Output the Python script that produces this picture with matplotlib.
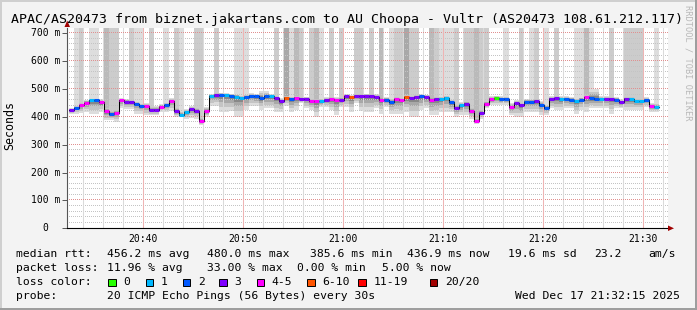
import numpy as np
import matplotlib
matplotlib.use("Agg")
import matplotlib.pyplot as plt
from matplotlib.patches import Rectangle, Polygon
from matplotlib import transforms

W, H = 697, 310

title = "APAC/AS20473 from biznet.jakartans.com to AU Choopa - Vultr (AS20473 108.61.212.117)"

# 30 s steps, first one at 20:32:34 (x axis is minutes after 20:00)
t_start = 32 + 34 / 60
step_min = 0.5

# median rtt per step (ms)
median = [423, 432, 441, 450, 459, 459, 453, 420, 409, 415,
          459, 455, 453, 447, 439, 438, 426, 426, 437, 441,
          458, 421, 408, 418, 428, 422, 385, 421, 475, 479,
          480, 478, 475, 473, 469, 471, 476, 474, 468, 474,
          474, 469, 457, 469, 465, 469, 465, 464, 457, 457,
          456, 460, 464, 461, 462, 474, 470, 475, 475, 475,
          475, 472, 462, 462, 455, 464, 460, 472, 469, 471,
          474, 471, 462, 464, 464, 469, 452, 433, 441, 447,
          421, 386, 414, 447, 465, 467, 465, 465, 436, 450,
          441, 455, 455, 457, 444, 432, 465, 467, 465, 465,
          462, 456, 462, 470, 467, 465, 464, 465, 465, 462,
          453, 465, 465, 456, 456, 460, 438, 437]

# lost pings per step (of 20)
loss = [3, 2, 4, 4, 1, 2, 4, 4, 2, 4,
        4, 3, 3, 2, 2, 4, 3, 3, 4, 2,
        4, 3, 1, 1, 3, 3, 4, 4, 1, 3,
        2, 1, 2, 1, 1, 2, 2, 2, 2, 2,
        1, 3, 3, 7, 2, 4, 3, 3, 4, 4,
        1, 3, 4, 4, 3, 3, 7, 3, 3, 3,
        3, 3, 4, 2, 2, 4, 4, 7, 3, 3,
        2, 3, 4, 3, 1, 1, 2, 3, 1, 3,
        4, 4, 3, 4, 4, 0, 2, 2, 4, 3,
        3, 2, 2, 3, 2, 2, 3, 3, 1, 2,
        2, 1, 2, 4, 2, 2, 1, 3, 3, 2,
        3, 3, 1, 1, 1, 2, 4, 1]

# smoke: lowest and highest ping of each step (ms)
smoke_lo = [412, 412, 415, 418, 412, 412, 418, 388, 388, 383,
            430, 428, 428, 412, 412, 406, 406, 406, 418, 418,
            420, 400, 398, 394, 396, 394, 372, 400, 440, 440,
            417, 417, 420, 400, 400, 424, 440, 440, 424, 430,
            430, 418, 418, 440, 418, 424, 448, 430, 424, 400,
            436, 436, 424, 406, 436, 436, 418, 448, 420, 418,
            418, 430, 412, 436, 412, 412, 412, 418, 400, 400,
            424, 430, 406, 406, 418, 418, 418, 400, 406, 406,
            394, 375, 394, 430, 442, 442, 442, 442, 406, 400,
            400, 418, 418, 418, 406, 406, 430, 424, 424, 430,
            430, 412, 424, 418, 430, 430, 430, 430, 412, 430,
            430, 424, 424, 424, 424, 436, 418, 418]
smoke_hi = [432, 442, 452, 462, 468, 468, 464, 436, 424, 428,
            466, 464, 462, 456, 450, 448, 438, 438, 446, 452,
            466, 434, 420, 428, 438, 434, 400, 434, 482, 486,
            487, 485, 483, 482, 478, 480, 484, 482, 493, 493,
            482, 478, 468, 478, 474, 478, 474, 473, 468, 468,
            466, 470, 474, 471, 472, 482, 479, 483, 483, 483,
            483, 481, 472, 472, 466, 474, 470, 481, 478, 480,
            482, 480, 472, 474, 474, 478, 464, 446, 452, 458,
            434, 400, 428, 458, 474, 476, 474, 474, 448, 460,
            452, 465, 465, 467, 456, 444, 474, 476, 474, 474,
            472, 466, 472, 480, 499, 499, 474, 474, 474, 472,
            464, 474, 474, 466, 466, 470, 450, 448]
# pings beyond the top of the graph: 0 none .. 4 many
tall = [0, 1, 2, 0, 1, 1, 0, 3, 2, 2,
        0, 0, 2, 1, 1, 0, 2, 0, 0, 1,
        0, 2, 1, 0, 0, 2, 2, 0, 0, 2,
        0, 0, 0, 1, 1, 1, 0, 0, 0, 0,
        0, 2, 0, 4, 1, 3, 2, 0, 2, 3,
        1, 0, 2, 0, 2, 0, 0, 2, 2, 0,
        2, 0, 3, 0, 1, 2, 2, 4, 2, 2,
        0, 0, 3, 2, 1, 1, 1, 2, 0, 2,
        2, 3, 2, 2, 0, 0, 0, 1, 0, 0,
        2, 0, 1, 2, 0, 1, 0, 2, 0, 0,
        0, 1, 1, 3, 1, 0, 0, 0, 2, 0,
        0, 2, 2, 2, 2, 0, 0, 1]

x_ticks = [40, 50, 60, 70, 80, 90]
x_labels = ["20:40", "20:50", "21:00", "21:10", "21:20", "21:30"]
y_ticks = [0, 100, 200, 300, 400, 500, 600, 700]
y_labels = ["0", "100 m", "200 m", "300 m", "400 m", "500 m", "600 m", "700 m"]

loss_names = ["0", "1", "2", "3", "4-5", "6-10", "11-19", "20/20"]
loss_colors = ["#26ff00", "#00b8ff", "#0059ff", "#7e00ff", "#ff00ff",
               "#ff5500", "#ff0000", "#a10000"]


def loss_color(n):
    if n <= 3:
        return loss_colors[n]
    if n <= 5:
        return loss_colors[4]
    if n <= 10:
        return loss_colors[5]
    if n <= 19:
        return loss_colors[6]
    return loss_colors[7]


MONO = "DejaVu Sans Mono"
plt.rcParams["font.family"] = MONO

fig = plt.figure(figsize=(W / 100, H / 100), dpi=100, facecolor="#f3f3f3")


def fx(p):
    return p / W


def fy(p):
    return 1 - p / H


x_left, x_right = 67, 668
y_top, y_bot = 27.7, 228.3
ax = fig.add_axes([fx(x_left), fy(y_bot), (x_right - x_left) / W, (y_bot - y_top) / H])
ax.set_facecolor("white")
xlim = (40 - (143.3 - x_left) / 10, 40 + (x_right - 143.3) / 10)
ylim = (0, 720)
ax.set_xlim(*xlim)
ax.set_ylim(*ylim)

x = t_start + step_min * np.arange(len(median))
med = np.array(median, float)
lo = np.array(smoke_lo, float)
hi = np.array(smoke_hi, float)
tl = np.array(tall)

# smoke
ax.bar(x, hi - lo, bottom=lo, width=step_min, align="edge", color="#dddddd",
       linewidth=0, antialiased=False, zorder=1)
tall_colors = {1: "#dddddd", 2: "#cccccc", 3: "#bababa", 4: "#a8a8a8"}
for lev, c in tall_colors.items():
    m = tl == lev
    ax.bar(x[m], 720 - med[m], bottom=med[m], width=step_min, align="edge",
           color=c, linewidth=0, antialiased=False, zorder=1.1)
for f, c in [(0.7, "#c4c4c4"), (0.45, "#a8a8a8"), (0.25, "#888888"), (0.1, "#5a5a5a")]:
    b = med - f * (med - lo)
    t = med + f * (hi - med)
    ax.bar(x, t - b, bottom=b, width=step_min, align="edge", color=c,
           linewidth=0, antialiased=False, zorder=1.2)

# grid: dotted horizontals, light vertical lines
minor_c = "#c4c4c4"
major_c = "#e09090"
dx = (xlim[1] - xlim[0]) / (x_right - x_left) * 2
gx = np.arange(xlim[0], xlim[1], dx)


def hdots(v, c, z):
    ax.plot(gx, np.full(len(gx), v), ",", color=c, zorder=z)


for v in np.arange(20, 720, 20):
    if v % 100:
        hdots(v, minor_c, 2)
for v in y_ticks[1:]:
    hdots(v, major_c, 2.1)
for v in np.arange(34, 93, 2):
    if v % 10:
        ax.axvline(v, color="#dadada", lw=0.75, snap=True, zorder=2)
for v in x_ticks:
    ax.axvline(v, color="#eeb4b4", lw=0.75, snap=True, zorder=2.1)

# median line coloured by loss
xs = np.append(x, x[-1] + step_min)
ys = np.append(med, med[-1])
ax.step(xs, ys, where="post", color="black", lw=0.75, zorder=3)
cols = [loss_color(n) for n in loss]
ax.hlines(med, x, x + step_min, colors=cols, lw=2.2, capstyle="butt", zorder=4)

# axes
for s in ["top", "right"]:
    ax.spines[s].set_visible(False)
ax.spines["left"].set_color("#555555")
ax.spines["left"].set_linewidth(0.8)
ax.spines["bottom"].set_color("black")
ax.spines["bottom"].set_linewidth(0.8)
ax.spines["left"].set_zorder(5)
ax.spines["bottom"].set_zorder(5)
ax.set_yticks(y_ticks)
ax.set_yticklabels([])
ax.tick_params(axis="y", length=3.6, width=0.7, color="#555555", direction="out")
ax.set_xticks(x_ticks)
ax.set_xticklabels(x_labels, fontsize=7, family=MONO)
ax.tick_params(axis="x", length=0, pad=4)

ylab_tr = transforms.blended_transform_factory(fig.transFigure, ax.transData)
for v, lab in zip(y_ticks, y_labels):
    xr = fx(60) if v else fx(48)
    ax.text(xr, v, lab, transform=ylab_tr, ha="right", va="center", fontsize=7, family=MONO)

# arrows
fig.add_artist(Polygon([(fx(64.5), fy(27)), (fx(70), fy(27)), (fx(67.2), fy(20.5))],
                       closed=True, transform=fig.transFigure, color="#a00000", lw=0))
fig.add_artist(Polygon([(fx(668), fy(225.5)), (fx(668), fy(231)), (fx(674), fy(228.3))],
                       closed=True, transform=fig.transFigure, color="#a00000", lw=0))

# texts
fig.text(fx(347), fy(19), title, ha="center", va="center", fontsize=9.5, family=MONO)
fig.text(fx(10), fy(126), "Seconds", rotation=90, ha="center", va="center", fontsize=8.4, family=MONO)
fig.text(fx(688), fy(5), "RRDTOOL / TOBI OETIKER", rotation=270, ha="center", va="top",
         fontsize=6.2, family=MONO, color="#b8b8b8")

LF = 8.2
line1 = [(16, "median rtt:"), (107.3, "456.2 ms avg"), (207.3, "480.0 ms max"),
         (310, "385.6 ms min"), (407.3, "436.9 ms now"), (507.7, "19.6 ms sd"),
         (594, "23.2"), (648, "am/s")]
line2 = [(16, "packet loss:"), (107.3, "11.96 % avg"), (207.3, "33.00 % max"),
         (297, "0.00 % min"), (382, "5.00 % now")]
for px_, s in line1:
    fig.text(fx(px_), fy(254.3), s, ha="left", va="center", fontsize=LF, family=MONO)
for px_, s in line2:
    fig.text(fx(px_), fy(268.3), s, ha="left", va="center", fontsize=LF, family=MONO)

fig.text(fx(16), fy(282.3), "loss color:", ha="left", va="center", fontsize=LF, family=MONO)
box_x = [108.3, 145.7, 182.7, 219.3, 256.7, 307.3, 358.3, 430]
for bx, name, c in zip(box_x, loss_names, loss_colors):
    fig.add_artist(Rectangle((fx(bx), fy(286)), 7.3 / W, 7.3 / H, transform=fig.transFigure,
                             facecolor=c, edgecolor="black", lw=0.7))
    fig.text(fx(bx + 15), fy(282.3), name, ha="left", va="center", fontsize=LF, family=MONO)

fig.text(fx(16), fy(296.3), "probe:", ha="left", va="center", fontsize=LF, family=MONO)
fig.text(fx(107.3), fy(296.3), "20 ICMP Echo Pings (56 Bytes) every 30s", ha="left",
         va="center", fontsize=LF, family=MONO)
fig.text(fx(680), fy(296.3), "Wed Dec 17 21:32:15 2025", ha="right", va="center",
         fontsize=LF, family=MONO)

# frame shading
fig.add_artist(Rectangle((0, fy(2)), 1, 2 / H, transform=fig.transFigure, color="#cfcfcf", lw=0))
fig.add_artist(Rectangle((0, 0), 2 / W, 1, transform=fig.transFigure, color="#cfcfcf", lw=0))
fig.add_artist(Rectangle((0, 0), 1, 2 / H, transform=fig.transFigure, color="#9e9e9e", lw=0))
fig.add_artist(Rectangle((1 - 2 / W, 0), 2 / W, 1, transform=fig.transFigure, color="#9e9e9e", lw=0))

fig.savefig("out.png", dpi=100, facecolor=fig.get_facecolor())
